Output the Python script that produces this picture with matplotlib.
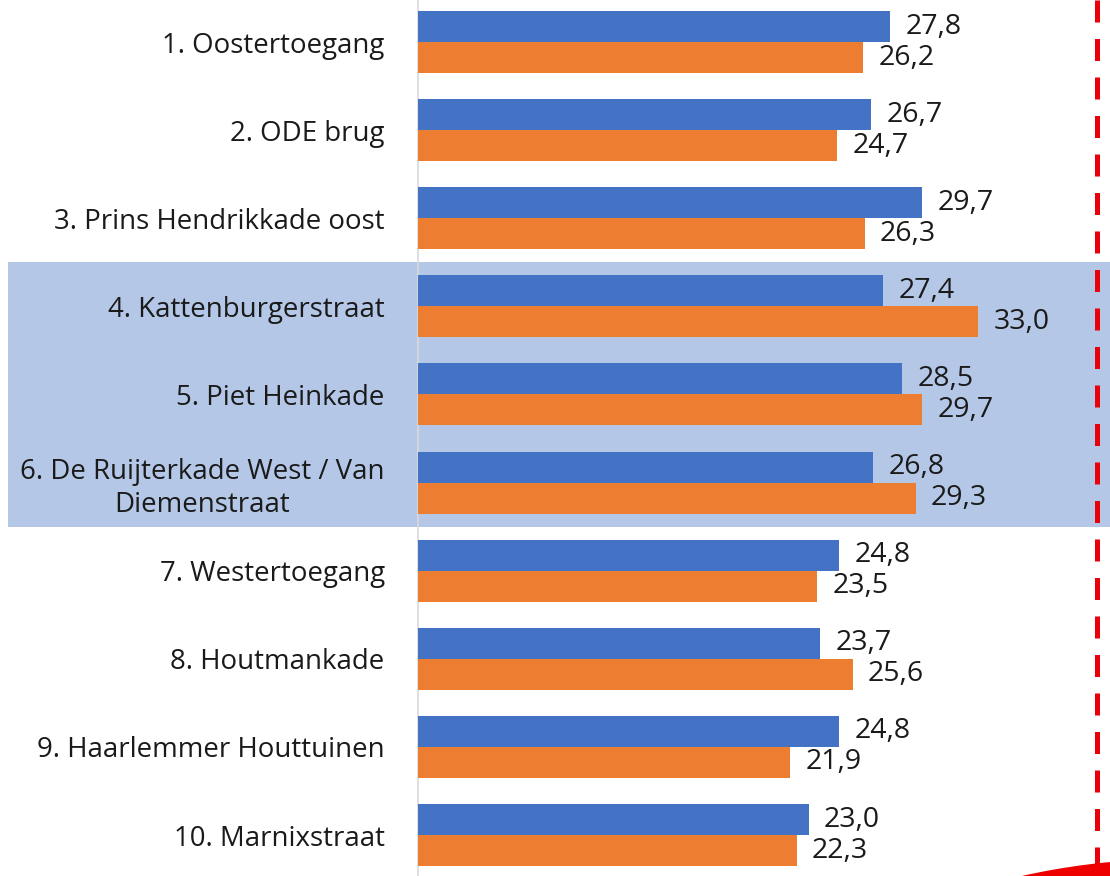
import matplotlib
matplotlib.use("Agg")
import matplotlib.pyplot as plt
import matplotlib.transforms as mtransforms
from matplotlib.patches import Rectangle, Ellipse

categories = ["1. Oostertoegang", "2. ODE brug", "3. Prins Hendrikkade oost",
              "4. Kattenburgerstraat", "5. Piet Heinkade",
              "6. De Ruijterkade West / Van\nDiemenstraat", "7. Westertoegang",
              "8. Houtmankade", "9. Haarlemmer Houttuinen", "10. Marnixstraat"]
blue_vals = [27.8, 26.7, 29.7, 27.4, 28.5, 26.8, 24.8, 23.7, 24.8, 23.0]
orange_vals = [26.2, 24.7, 26.3, 33.0, 29.7, 29.3, 23.5, 25.6, 21.9, 22.3]
threshold = 40
highlight_rows = (3, 5)

plt.rcParams['font.family'] = ['Open Sans', 'DejaVu Sans']
W, H = 1110, 876
fig = plt.figure(figsize=(W / 100, H / 100), dpi=100)
ax = fig.add_axes([418 / W, 0, 692 / W, 1])
ax.patch.set_alpha(0)

BLUE = "#4472c4"
ORANGE = "#ed7d31"
FS_LAB = 19.9
FS_VAL = 20.5
bh = 0.352
n = len(categories)
ys = list(range(n))
ax.barh([y - bh / 2 for y in ys], blue_vals, height=bh, color=BLUE, zorder=3)
ax.barh([y + bh / 2 for y in ys], orange_vals, height=bh, color=ORANGE, zorder=3)

for y, v in zip(ys, blue_vals):
    ax.annotate(f"{v:.1f}".replace(".", ","), (v, y - bh / 2), xytext=(11, 0),
                textcoords="offset points", va="center", ha="left",
                fontsize=FS_VAL, color="#1a1a1a", zorder=4)
for y, v in zip(ys, orange_vals):
    ax.annotate(f"{v:.1f}".replace(".", ","), (v, y + bh / 2), xytext=(11, 0),
                textcoords="offset points", va="center", ha="left",
                fontsize=FS_VAL, color="#1a1a1a", zorder=4)

ax.set_xlim(0, 40.75)
ax.set_ylim(n - 1 + 0.465, -0.477)

ax.set_yticks(ys)
ax.set_yticklabels(categories, fontsize=FS_LAB, color="#1a1a1a",
                   multialignment="center", linespacing=1.22)
ax.tick_params(axis="y", length=0, pad=24)
ax.set_xticks([])
for s in ["top", "right", "bottom"]:
    ax.spines[s].set_visible(False)
ax.spines["left"].set_color("#d9d9d9")
ax.spines["left"].set_linewidth(1.2)
ax.spines["left"].set_zorder(2)

ax.axvline(threshold, ymin=1, ymax=0, color="#e8000b", linewidth=3.6,
           linestyle=(0, (4.4, 3.3)), zorder=2)

# highlighted band
trans = mtransforms.blended_transform_factory(fig.transFigure, ax.transData)
band = Rectangle((8 / W, highlight_rows[0] - 0.5), 1.2, highlight_rows[1] - highlight_rows[0] + 1,
                 transform=trans, facecolor="#b4c7e7", edgecolor="none",
                 zorder=0, clip_on=False)
ax.add_patch(band)

# red shape bottom right
fig.patches.append(Ellipse((1175 / W, 1 - 1559 / H), 1400 / W, 1400 / H,
                           transform=fig.transFigure, facecolor="#ee0000",
                           edgecolor="none", zorder=5))

fig.savefig("out.png", dpi=100)
